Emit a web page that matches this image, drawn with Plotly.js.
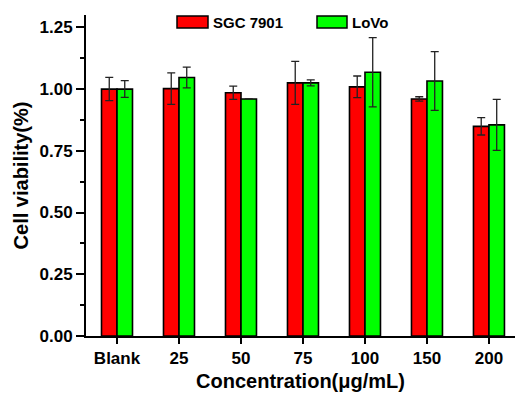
<!DOCTYPE html>
<html><head><meta charset="utf-8">
<script src="https://cdn.plot.ly/plotly-3.0.1.min.js"></script>
<style>html,body{margin:0;padding:0;background:#fff}#c{width:516px;height:394px}</style>
</head><body><div id="c"></div>
<script>
const categories = ["Blank","25","50","75","100","150","200"];
const sgcValues = [1.000, 1.002, 0.985, 1.025, 1.009, 0.960, 0.849];
const sgcErrors = [0.047, 0.064, 0.027, 0.087, 0.044, 0.009, 0.035];
const lovoValues = [1.000, 1.047, 0.960, 1.025, 1.068, 1.033, 0.855];
const lovoErrors = [0.034, 0.042, 0.000, 0.012, 0.140, 0.119, 0.103];
const seriesNames = ["SGC 7901","LoVo"];
const yTicks = [0, 0.25, 0.5, 0.75, 1.0, 1.25];
const yTickLabels = ["0.00","0.25","0.50","0.75","1.00","1.25"];

const font = {family:"Liberation Sans, Arial, sans-serif", color:"#000", weight:"bold"};
const mkBar = (name, y, err, color) => ({
  type:"bar", name, x:categories, y,
  marker:{color, line:{color:"#000", width:1.6}},
  error_y:{type:"data", array:err, visible:true, color:"#222", thickness:1.3, width:4},
  showlegend:false
});
const data = [
  mkBar(seriesNames[0], sgcValues, sgcErrors, "#FF0000"),
  mkBar(seriesNames[1], lovoValues, lovoErrors, "#00FF00")
];
const layout = {
  width:516, height:394,
  margin:{l:86, r:1, t:15, b:58},
  paper_bgcolor:"#fff", plot_bgcolor:"#fff",
  barmode:"group", bargap:0.5, bargroupgap:0,
  font,
  xaxis:{
    type:"category", range:[-0.5, 6.42],
    showline:true, linecolor:"#000", linewidth:2,
    ticks:"outside", ticklen:6, tickwidth:2, tickcolor:"#000",
    tickfont:{...font, size:17}, showgrid:false, zeroline:false,
    title:{text:"Concentration(μg/mL)", font:{...font, size:20}, standoff:7}
  },
  yaxis:{
    range:[0, 1.3], tickvals:yTicks, ticktext:yTickLabels,
    showline:true, linecolor:"#000", linewidth:2,
    ticks:"outside", ticklen:8, tickwidth:2, tickcolor:"#000",
    minor:{dtick:0.125, tick0:0, ticks:"outside", ticklen:4, tickwidth:2, tickcolor:"#000"},
    tickfont:{...font, size:17}, showgrid:false, zeroline:false,
    title:{text:"Cell viability(%)", font:{...font, size:20}, standoff:6}
  },
  shapes:[
    {type:"rect", xref:"paper", yref:"paper", x0:(177-86)/429, x1:(208-86)/429, y0:(336-28)/321, y1:(336-16)/321, fillcolor:"#FF0000", line:{color:"#000", width:1.5}},
    {type:"rect", xref:"paper", yref:"paper", x0:(317-86)/429, x1:(347-86)/429, y0:(336-28)/321, y1:(336-16)/321, fillcolor:"#00FF00", line:{color:"#000", width:1.5}}
  ],
  annotations:[
    {xref:"paper", yref:"paper", x:(211-86)/429, y:(336-22)/321, xanchor:"left", yanchor:"middle", text:seriesNames[0], showarrow:false, font:{...font, size:15}},
    {xref:"paper", yref:"paper", x:(350-86)/429, y:(336-22)/321, xanchor:"left", yanchor:"middle", text:seriesNames[1], showarrow:false, font:{...font, size:15}}
  ]
};
Plotly.newPlot("c", data, layout, {displayModeBar:false, staticPlot:true});
</script></body></html>
